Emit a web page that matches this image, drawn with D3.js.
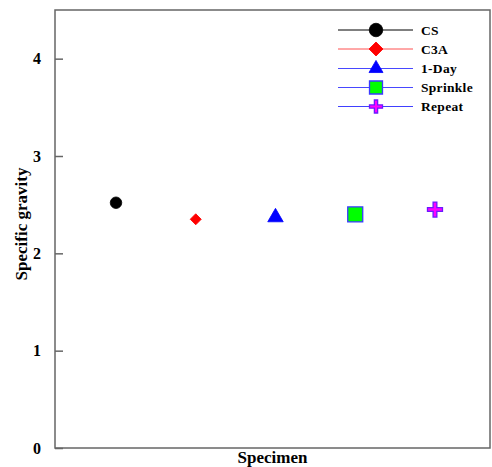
<!DOCTYPE html>
<html><head><meta charset="utf-8">
<script src="https://cdn.jsdelivr.net/npm/d3@7"></script>
<style>body{margin:0;background:#fff}svg{display:block}</style>
</head><body>
<svg id="c" width="492" height="467"></svg>
<script>
const categories = ["CS", "C3A", "1-Day", "Sprinkle", "Repeat"];
const positions = [1, 2, 3, 4, 5];
const values = [2.52, 2.35, 2.37, 2.40, 2.45];
const yTicks = [0, 1, 2, 3, 4];
const markers = ["circle", "diamond", "triangle", "square", "plus"];
const fills = ["#000000", "#ff0000", "#0000ff", "#00ff00", "#ff00ff"];
const strokes = ["#000000", "#ff0000", "#0000ff", "#3a3aff", "#6a1aff"];
const lineColors = ["#000000", "#ff5050", "#4848ff", "#4848ff", "#4040ff"];

const FONT = "Liberation Serif";
const svg = d3.select("#c");
const L = 55, R = 490, T = 10, B = 448;
const x = d3.scaleLinear().domain([0.235, 5.69]).range([L, R]);
const y = d3.scaleLinear().domain([0, 4.5]).range([B, T]);

svg.append("rect").attr("x", L).attr("y", T).attr("width", R - L).attr("height", B - T)
  .attr("fill", "none").attr("stroke", "#666").attr("stroke-width", 1.5);

const yAxis = d3.axisLeft(y).tickValues(yTicks).tickSize(-8).tickPadding(14).tickFormat(d3.format("d"));
const ga = svg.append("g").attr("transform", `translate(${L},0)`).call(yAxis)
  .attr("font-family", FONT).attr("font-size", 16).attr("font-weight", "bold");
ga.select(".domain").remove();
ga.selectAll(".tick line").attr("stroke", "#666").attr("stroke-width", 1.5);
ga.selectAll(".tick text").attr("fill", "#000");

function label(sel) { return sel.attr("font-family", FONT).attr("font-weight", "bold").attr("fill", "#000"); }

label(svg.append("text")).attr("transform", `translate(27,224) rotate(-90)`)
  .attr("text-anchor", "middle").attr("font-size", 17).text("Specific gravity");
label(svg.append("text")).attr("x", (L + R) / 2).attr("y", 463)
  .attr("text-anchor", "middle").attr("font-size", 17).text("Specimen");

function plusPath(w) {
  const h = w / 2, t = w / 8;
  return `M${-t},${-h}H${t}V${-t}H${h}V${t}H${t}V${h}H${-t}V${t}H${-h}V${-t}H${-t}Z`;
}
function sym(i, s) {
  if (markers[i] === "circle") return d3.symbol().type(d3.symbolCircle).size(Math.PI * s * s / 4)();
  if (markers[i] === "diamond") return d3.symbol().type(d3.symbolSquare).size(s * s / 2)();
  if (markers[i] === "triangle") return d3.symbol().type(d3.symbolTriangle).size(s * s * Math.sqrt(3) / 4)();
  if (markers[i] === "square") return d3.symbol().type(d3.symbolSquare).size(s * s)();
  return plusPath(s);
}
function drawMarker(g, i, cx, cy, s) {
  g.append("path").attr("d", sym(i, s))
    .attr("fill", fills[i]).attr("stroke", strokes[i]).attr("stroke-width", i >= 3 ? 1.3 : 0.8)
    .attr("transform", `translate(${cx},${cy})` + (markers[i] === "diamond" ? " rotate(45)" : ""));
}

const plotSizes = [11.5, 11, 15.5, 15, 15];
const legSizes = [13.5, 14, 14, 13, 13];
const pts = svg.append("g");
values.forEach((v, i) => drawMarker(pts, i, x(positions[i]), y(v), plotSizes[i]));

const legY = [30, 49, 68.5, 87.5, 106.5];
const leg = svg.append("g");
categories.forEach((c, i) => {
  leg.append("line").attr("x1", 338).attr("x2", 413).attr("y1", legY[i]).attr("y2", legY[i])
    .attr("stroke", lineColors[i]).attr("stroke-width", 1);
  drawMarker(leg, i, 376, legY[i], legSizes[i]);
  label(leg.append("text")).attr("x", 421).attr("y", legY[i] + 4.5).attr("font-size", 13.5)
    .attr("letter-spacing", 0.3).text(c);
});
</script>
</body></html>
